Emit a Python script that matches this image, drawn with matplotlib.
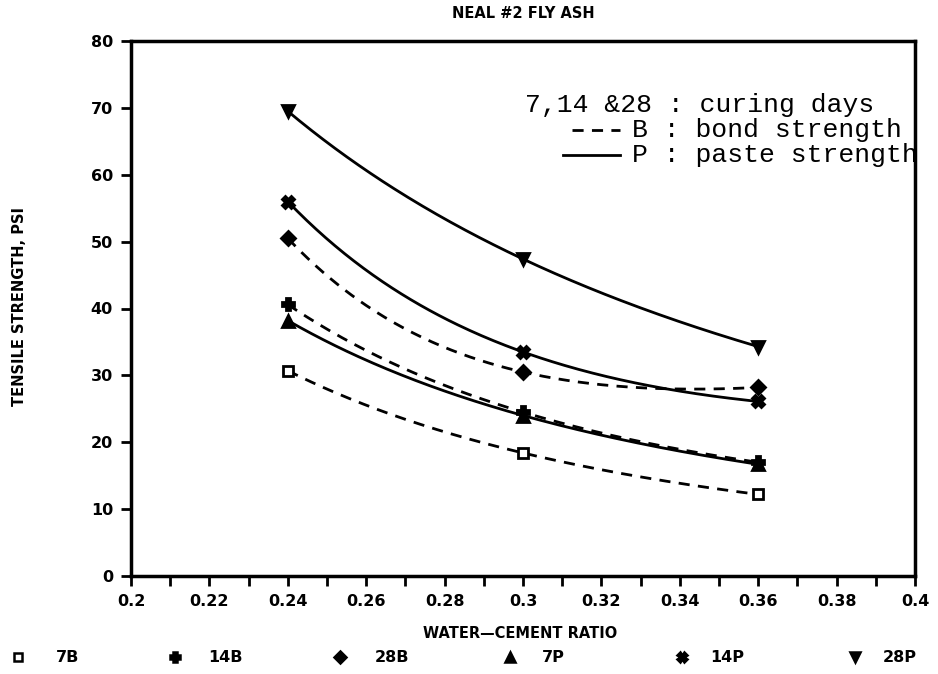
import numpy as np
import matplotlib
matplotlib.use("Agg")
import matplotlib.pyplot as plt
from matplotlib.lines import Line2D
from matplotlib.ticker import MultipleLocator, FixedLocator, FixedFormatter

# ---- data ----
wc_ratio = [0.24, 0.30, 0.36]
b7 = [30.7, 18.4, 12.2]
b14 = [40.6, 24.5, 17.0]
b28 = [50.5, 30.5, 28.2]
p7 = [38.2, 24.0, 16.7]
p14 = [56.0, 33.5, 26.1]
p28 = [69.5, 47.4, 34.3]
series_labels = ["7B", "14B", "28B", "7P", "14P", "28P"]
xtick_vals = [0.2, 0.22, 0.24, 0.26, 0.28, 0.3, 0.32, 0.34, 0.36, 0.38, 0.4]
xtick_labels = ["0.2", "0.22", "0.24", "0.26", "0.28", "0.3", "0.32", "0.34", "0.36", "0.38", "0.4"]
yticks = [0, 10, 20, 30, 40, 50, 60, 70, 80]

W, H = 938, 674
fig = plt.figure(figsize=(W / 100, H / 100), dpi=100)
ax = fig.add_axes([131 / W, 1 - 576 / H, (915 - 131) / W, (576 - 41) / H])

series = [b7, b14, b28, p7, p14, p28]
markers = ["s", "P", "D", "^", "X", "v"]
msizes = [7, 8, 7, 8, 8, 9]
styles = ["--", "--", "--", "-", "-", "-"]
faces = ["white", "black", "black", "black", "black", "black"]


def smooth_curve(xv, yv, n=200):
    """Smooth curve through the points: quadratic in 1/x."""
    coef = np.polyfit(1.0 / xv, yv, 2)
    xf = np.linspace(xv[0], xv[-1], n)
    return xf, np.polyval(coef, 1.0 / xf)


xs = np.array(wc_ratio)
for ys, m, ms, ls, fc in zip(series, markers, msizes, styles, faces):
    xf, yf = smooth_curve(xs, np.array(ys))
    ax.plot(xf, yf, color="black", lw=2.0, ls=ls,
            dashes=(4, 3) if ls == "--" else (None, None))
    ax.plot(xs, ys, ls="none", marker=m, ms=ms, mfc=fc, mec="black", mew=2.0, color="black")

ax.set_xlim(0.2, 0.4)
ax.set_ylim(0, 80)
ax.xaxis.set_major_locator(FixedLocator(xtick_vals))
ax.xaxis.set_major_formatter(FixedFormatter(xtick_labels))
ax.xaxis.set_minor_locator(MultipleLocator(0.01))
ax.set_yticks(yticks)
for s in ax.spines.values():
    s.set_linewidth(2.5)
ax.tick_params(axis="both", which="both", direction="out", width=2, length=7,
               labelsize=11.5)
for lab in ax.get_xticklabels() + ax.get_yticklabels():
    lab.set_fontweight("bold")
ax.tick_params(axis="x", pad=6)
ax.tick_params(axis="y", pad=6)

fig.text(523 / W, 1 - 13 / H, "NEAL #2 FLY ASH", ha="center", va="center",
         fontsize=10.5, fontweight="bold")
fig.text(520 / W, 1 - 634 / H, "WATER\u2014CEMENT RATIO", ha="center", va="center",
         fontsize=10.5, fontweight="bold")
fig.text(20 / W, 1 - 306 / H, "TENSILE STRENGTH, PSI", ha="center", va="center",
         rotation=90, fontsize=10.5, fontweight="bold")

# annotation text
mono = "Liberation Mono"
fig.text(525 / W, 1 - 105 / H, "7,14 &28 : curing days", ha="left", va="center",
         fontsize=19, family=mono)
fig.text(632 / W, 1 - 130 / H, "B : bond strength", ha="left", va="center",
         fontsize=19, family=mono)
fig.text(632 / W, 1 - 155 / H, "P : paste strength", ha="left", va="center",
         fontsize=19, family=mono)
fig.add_artist(Line2D([572 / W, 620 / W], [1 - 130 / H, 1 - 130 / H], color="black",
                      lw=2, ls="--", dashes=(4, 3), transform=fig.transFigure))
fig.add_artist(Line2D([563 / W, 620 / W], [1 - 155 / H, 1 - 155 / H], color="black",
                      lw=2, transform=fig.transFigure))

# legend row below the axis (marker + label per series)
leg_marker_x = [18, 175, 340, 510, 682, 855]
leg_text_x = [68, 225, 392, 553, 727, 900]
leg_y = 1 - 657 / H
for lab, m, ms, fc, mx, tx in zip(series_labels, markers, msizes, faces, leg_marker_x, leg_text_x):
    fig.add_artist(Line2D([mx / W], [leg_y], ls="none", marker=m, ms=ms * 0.85, mfc=fc,
                          mec="black", mew=1.8, color="black", transform=fig.transFigure))
    fig.text(tx / W, leg_y, lab, ha="center", va="center", fontsize=11.5, fontweight="bold")

fig.savefig("out.png", dpi=100)
